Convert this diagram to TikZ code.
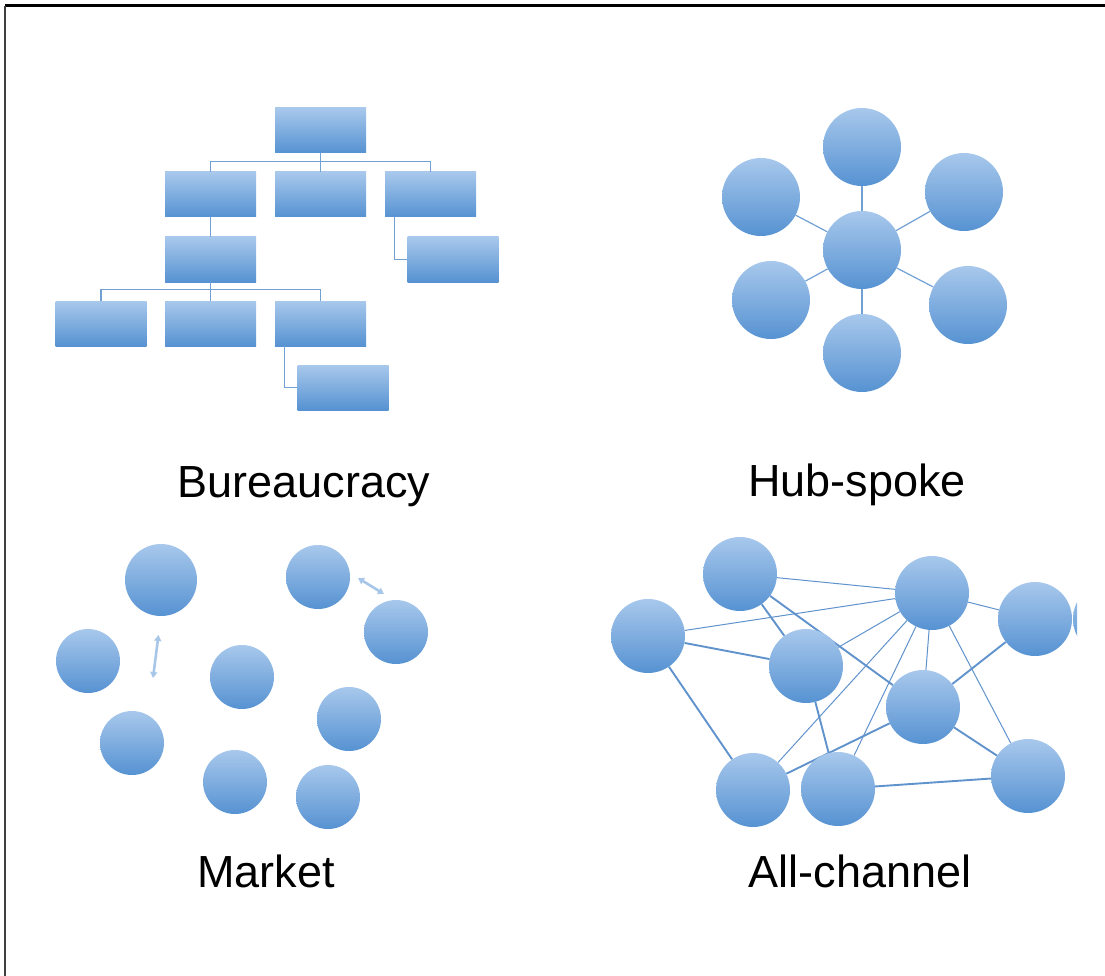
\documentclass[tikz,border=0pt]{standalone}
\usepackage{fontspec}
\setmainfont{Liberation Sans}
\usetikzlibrary{arrows.meta}
\pgfdeclarelayer{background}
\pgfsetlayers{background,main}
\definecolor{topblue}{RGB}{168,200,236}
\definecolor{botblue}{RGB}{86,146,210}
\definecolor{linkblue}{RGB}{112,160,212}
\definecolor{edgeblue}{RGB}{96,146,204}
\definecolor{arrowblue}{RGB}{168,198,232}
\tikzset{
  boxnode/.style={rectangle, minimum width=91pt, minimum height=45pt, inner sep=0pt,
    top color=topblue, bottom color=botblue, draw=none},
  ballnode/.style={circle, minimum size=#1, inner sep=0pt,
    top color=topblue, bottom color=botblue, draw=none},
  ballnode/.default=64pt,
  orgline/.style={draw=linkblue, line width=1.3pt},
  thinedge/.style={draw=edgeblue, line width=1pt},
  thickedge/.style={draw=edgeblue, line width=1.9pt},
  spoke/.style={draw=linkblue, line width=1.2pt},
  moveto/.style={draw=arrowblue, line width=2.6pt, {Triangle[length=6pt,width=7pt]}-{Triangle[length=6pt,width=7pt]}},
  caption/.style={font=\fontsize{45}{54}\selectfont, anchor=base, inner sep=0pt}
}
\begin{document}
\begin{tikzpicture}[x=1pt, y=-1pt]
\useasboundingbox (0,0) rectangle (1105,976);
% frame
\coordinate (ftl) at (5,6);
\coordinate (ftr) at (1105,6);
\coordinate (fbl) at (5,976);
\draw[line width=3pt] (ftr) -- (ftl);
\draw[line width=2pt, draw=black!75] (ftl) -- (fbl);

% ---------- Bureaucracy ----------
\node[boxnode] (b0) at (320.5,130.5) {};
\node[boxnode] (b1) at (210.5,194.5) {};
\node[boxnode] (b2) at (320.5,194.5) {};
\node[boxnode] (b3) at (430.5,194.5) {};
\node[boxnode] (b4) at (210.5,259.5) {};
\node[boxnode] (b5) at (453,259.5) {};
\node[boxnode] (b6) at (101,323.5) {};
\node[boxnode] (b7) at (210.5,323.5) {};
\node[boxnode] (b8) at (320.5,323.5) {};
\node[boxnode] (b9) at (343,387.5) {};
\draw[orgline] (b1.north) -- ++(0,-10) -| (b3.north);
\draw[orgline] (b0.south) -- (b2.north);
\draw[orgline] (b1.south) -- (b4.north);
\draw[orgline] (b3.south west) ++(10,0) |- (b5.west);
\draw[orgline] (b6.north) -- ++(0,-11) -| (b8.north);
\draw[orgline] (b4.south) -- (b7.north);
\draw[orgline] (b8.south west) ++(10,0) |- (b9.west);
\node[caption] (lbu) at (304,497) {Bureaucracy};

% ---------- Hub-spoke ----------
\node[ballnode=78pt] (hc) at (862,250) {};
\node[ballnode=78pt] (h1) at (862,147) {};
\node[ballnode=78pt] (h2) at (964,192) {};
\node[ballnode=78pt] (h3) at (968,305) {};
\node[ballnode=78pt] (h4) at (862,353) {};
\node[ballnode=78pt] (h5) at (771,300) {};
\node[ballnode=78pt] (h6) at (761,197) {};
\begin{pgfonlayer}{background}
\foreach \h in {h1,h2,h3,h4,h5,h6} \draw[spoke] (hc) -- (\h);
\end{pgfonlayer}
\node[caption] (lhs) at (857,496) {Hub-spoke};

% ---------- Market ----------
\node[ballnode=72pt] (m1) at (161,580) {};
\node[ballnode] (m2) at (88,661) {};
\node[ballnode] (m3) at (132,743) {};
\node[ballnode] (m4) at (242,677) {};
\node[ballnode] (m5) at (235,782) {};
\node[ballnode] (m6) at (318,577) {};
\node[ballnode] (m7) at (396,632) {};
\node[ballnode] (m8) at (349,719) {};
\node[ballnode] (m9) at (328,797) {};
\coordinate (ma1) at (158.5,635);
\coordinate (ma2) at (153,678);
\coordinate (mb1) at (358,578);
\coordinate (mb2) at (384,594);
\draw[moveto] (ma1) -- (ma2);
\draw[moveto] (mb1) -- (mb2);
\node[caption] (lmk) at (266,887) {Market};

% ---------- All-channel ----------
\node[ballnode=74pt] (aA) at (740,574) {};
\node[ballnode=74pt] (aB) at (932,593) {};
\node[ballnode=74pt] (aC) at (1035,619) {};
\node[ballnode=74pt] (aD) at (648,636) {};
\node[ballnode=74pt] (aE) at (806,666) {};
\node[ballnode=74pt] (aF) at (923,707) {};
\node[ballnode=74pt] (aG) at (753,790) {};
\node[ballnode=74pt] (aH) at (838,789) {};
\node[ballnode=74pt] (aI) at (1028,776) {};
\begin{scope}
\clip (1060,590) rectangle (1077,650);
\node[ballnode=74pt] (aJ) at (1110,619) {};
\end{scope}
\begin{pgfonlayer}{background}
\draw[thinedge] (aA) -- (aB);
\draw[thickedge] (aA) -- (aE);
\draw[thickedge] (aA) -- (aF);
\draw[thinedge] (aD) -- (aB);
\draw[thickedge] (aD) -- (aE);
\draw[thickedge] (aD) -- (aG);
\draw[thinedge] (aB) -- (aC);
\draw[thinedge] (aB) -- (aE);
\draw[thinedge] (aB) -- (aG);
\draw[thinedge] (aB) -- (aH);
\draw[thinedge] (aB) -- (aF);
\draw[thinedge] (aB) -- (aI);
\draw[thickedge] (aE) -- (aH);
\draw[thickedge] (aF) -- (aG);
\draw[thickedge] (aF) -- (aC);
\draw[thickedge] (aF) -- (aI);
\draw[thickedge] (aH) -- (aI);
\end{pgfonlayer}
\node[caption] (lac) at (860,887) {All-channel};
\end{tikzpicture}
\end{document}
